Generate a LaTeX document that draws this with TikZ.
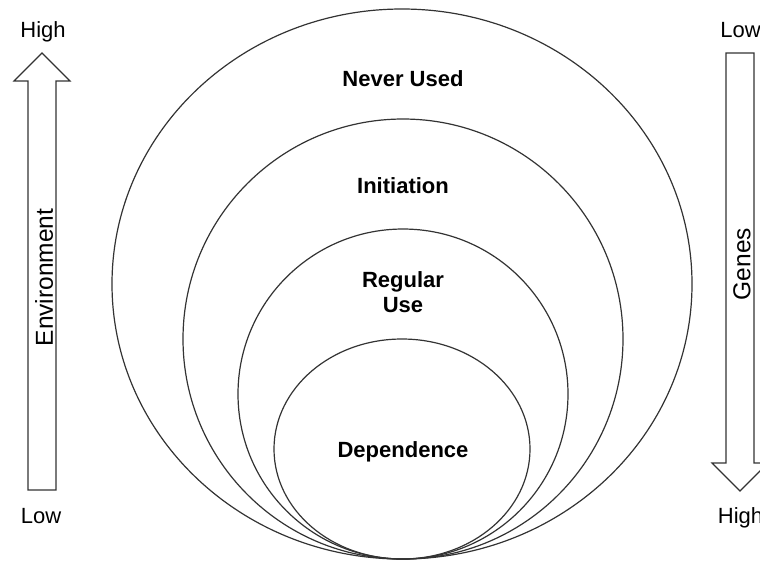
\documentclass[tikz,border=0pt]{standalone}
\usepackage{fontspec}
\setmainfont{Liberation Sans}

\begin{document}
\begin{tikzpicture}[x=0.5pt,y=-0.5pt]
  \tikzstyle{ring}=[draw=black!80, line width=0.6pt]
  \tikzstyle{stage}=[font=\fontsize{11}{12.2}\selectfont\bfseries, align=center, inner sep=0pt]
  \tikzstyle{level}=[font=\fontsize{11}{12.2}\selectfont, inner sep=0pt]
  \tikzstyle{axis}=[font=\fontsize{12.25}{13}\selectfont, rotate=90, inner sep=0pt]
  \tikzstyle{block}=[draw=black!80, line width=0.6pt, fill=white, line join=miter]
  \useasboundingbox (0,0) rectangle (760,564);
    % nested stages of use
    \draw[ring] (402,284) ellipse [x radius=290, y radius=275];
    \draw[ring] (403,339) circle [radius=220];
    \draw[ring] (403,394) circle [radius=165];
    \draw[ring] (402,449) ellipse [x radius=128, y radius=110];
    \node[stage] (never) at (403,78.5) {Never Used};
    \node[stage] (init) at (403,185.5) {Initiation};
    \node[stage] (regular) at (403,292) {Regular\\Use};
    \node[stage] (dep) at (403,452) {Dependence};
    % environment arrow
    \draw[block] (28,490) -- (28,81) -- (14,81) -- (42,53) -- (70,81) -- (56,81) -- (56,490) -- cycle;
    \node[axis] (env) at (44,277.5) {Environment};
    \node[level] (envhigh) at (43,32) {High};
    \node[level] (envlow) at (41,516) {Low};
    % genes arrow
    \draw[block] (726,53) -- (726,463) -- (712,463) -- (740,491) -- (768,463) -- (754,463) -- (754,53) -- cycle;
    \node[axis] (genes) at (742,264) {Genes};
    \node[level] (geneslow) at (740.5,30) {Low};
    \node[level] (geneshigh) at (740.5,518) {High};
  \end{tikzpicture}
\end{document}
